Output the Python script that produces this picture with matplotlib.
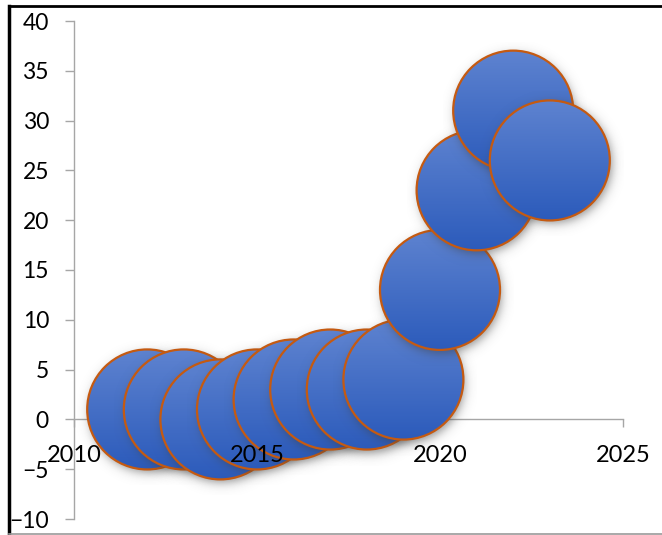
import numpy as np
import matplotlib.pyplot as plt
from matplotlib.patches import Ellipse
from matplotlib.lines import Line2D

years = [2012, 2013, 2014, 2015, 2016, 2017, 2018, 2019, 2020, 2021, 2022, 2023]
values = [1, 1, 0, 1, 2, 3, 3, 4, 13, 23, 31, 26]
sizes = [10, 10, 10, 10, 10, 10, 10, 10, 10, 10, 10, 10]
x_ticks = [2010, 2015, 2020, 2025]
y_ticks = [-10, -5, 0, 5, 10, 15, 20, 25, 30, 35, 40]

W, H = 662, 535
fig = plt.figure(figsize=(W / 100, H / 100), dpi=100)
pos = [74 / W, 16 / H, 549 / W, 498 / H]
ax = fig.add_axes(pos)
ax.set_xlim(2010, 2025)
ax.set_ylim(-10, 40)
ax.set_autoscale_on(False)

grey = '#a6a6a6'
for side in ['top', 'right']:
    ax.spines[side].set_visible(False)
ax.spines['bottom'].set_position(('data', 0))
for side in ['left', 'bottom']:
    ax.spines[side].set_color(grey)
    ax.spines[side].set_linewidth(1.0)
    ax.spines[side].set_zorder(0.4)
ax.set_axisbelow(True)

font = 'Lato'
ax.set_xticks(x_ticks)
ax.set_yticks(y_ticks)
ax.tick_params(axis='y', direction='out', length=6.5, width=1, color=grey,
               labelsize=16.5, pad=11.5)
ax.tick_params(axis='x', direction='out', length=6, width=1, color=grey,
               labelbottom=False)
for lbl in ax.get_yticklabels():
    lbl.set_fontfamily(font)

# pixels per data unit, for round bubbles on an unequal-aspect axes
px_x = ax.bbox.width / (ax.get_xlim()[1] - ax.get_xlim()[0])
px_y = ax.bbox.height / (ax.get_ylim()[1] - ax.get_ylim()[0])

top_c = np.array([0x5e, 0x83, 0xd0]) / 255
bot_c = np.array([0x2c, 0x5b, 0xbb]) / 255
grad = np.linspace(0, 1, 128)[:, None, None]
grad_img = top_c * (1 - grad) + bot_c * grad

r_max = 60.0
smax = max(sizes)
for i, (xv, yv, s) in enumerate(zip(years, values, sizes)):
    r = r_max * np.sqrt(s / smax)
    z = 2 + 3 * i

    # soft drop shadow, offset down-right
    off_x, off_y, blur = 2.0, -4.0, 3.0
    half = r + 4 * blur
    n = 96
    g = np.linspace(-half, half, n)
    gx, gy = np.meshgrid(g, -g)
    d = np.hypot(gx, gy)
    alpha = 0.55 / (1 + np.exp((d - r) / blur))
    shadow = np.zeros((n, n, 4))
    shadow[..., :3] = 0.25
    shadow[..., 3] = alpha
    cx, cy = xv + off_x / px_x, yv + off_y / px_y
    ax.imshow(shadow, extent=(cx - half / px_x, cx + half / px_x,
                              cy - half / px_y, cy + half / px_y),
              aspect='auto', interpolation='bilinear', zorder=z)

    circ = Ellipse((xv, yv), 2 * r / px_x, 2 * r / px_y,
                   facecolor='none', edgecolor='#c55a11', lw=1.6, zorder=z + 2)
    ax.add_patch(circ)
    im = ax.imshow(grad_img, extent=(xv - r / px_x, xv + r / px_x,
                                     yv - r / px_y, yv + r / px_y),
                   aspect='auto', interpolation='bilinear', zorder=z + 1)
    im.set_clip_path(circ)

# tick labels of the x axis sit on top of the bubbles
ax2 = fig.add_axes(pos, sharex=ax)
ax2.set_ylim(-10, 40)
ax2.patch.set_visible(False)
for side in ['top', 'right', 'left', 'bottom']:
    ax2.spines[side].set_visible(False)
ax2.spines['bottom'].set_position(('data', 0))
ax2.set_yticks([])
ax2.tick_params(axis='x', length=0, labelsize=17, pad=18.5)
for lbl in ax2.get_xticklabels():
    lbl.set_fontfamily(font)

# frame around the chart area
fig.add_artist(Line2D([9 / W, 9 / W], [0, 1 - 6 / H], color='black', lw=2.5))
fig.add_artist(Line2D([9 / W, 1], [1 - 6 / H, 1 - 6 / H], color='black', lw=2))
fig.add_artist(Line2D([9 / W, 1], [1.5 / H, 1.5 / H], color='#9a9a9a', lw=1.2))

fig.savefig('out.png', dpi=100)
